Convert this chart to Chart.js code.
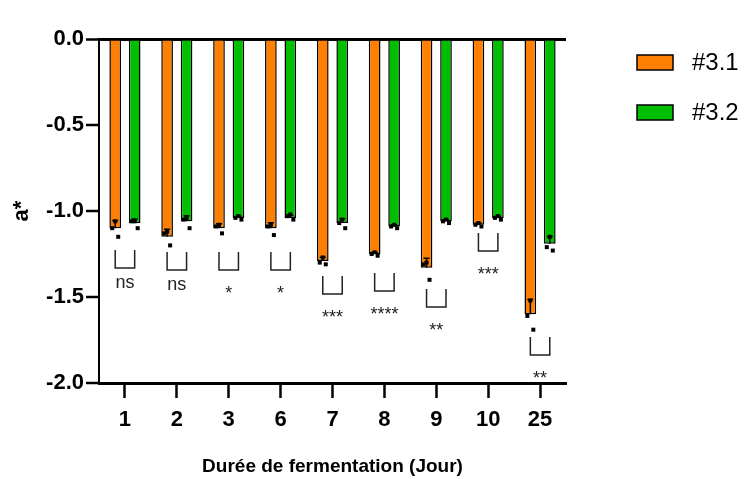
<!DOCTYPE html>
<html>
<head>
<meta charset="utf-8">
<script src="https://cdn.jsdelivr.net/npm/chart.js@4.4.0/dist/chart.umd.min.js"></script>
<style>
  html, body { margin: 0; padding: 0; background: #fff; }
</style>
</head>
<body>
<canvas id="chart" width="746" height="479"></canvas>
<script>
const days = ["1", "2", "3", "6", "7", "8", "9", "10", "25"];

// mean a* per day
const means31 = [-1.10, -1.15, -1.10, -1.10, -1.29, -1.25, -1.33, -1.08, -1.60];
const means32 = [-1.07, -1.06, -1.04, -1.04, -1.07, -1.09, -1.06, -1.04, -1.19];

// individual replicates
const reps31 = [
  [-1.06, -1.10, -1.15], [-1.12, -1.13, -1.20], [-1.08, -1.09, -1.13],
  [-1.08, -1.09, -1.14], [-1.27, -1.30, -1.31], [-1.24, -1.25, -1.26],
  [-1.30, -1.31, -1.40], [-1.07, -1.08, -1.09], [-1.52, -1.61, -1.69]
];
const reps32 = [
  [-1.06, -1.06, -1.10], [-1.04, -1.05, -1.10], [-1.03, -1.04, -1.05],
  [-1.02, -1.03, -1.05], [-1.05, -1.07, -1.10], [-1.08, -1.09, -1.10],
  [-1.05, -1.06, -1.07], [-1.03, -1.04, -1.05], [-1.15, -1.21, -1.23]
];

// significance between #3.1 and #3.2
const sigLabels = ["ns", "ns", "*", "*", "***", "****", "**", "***", "**"];
const sigLevel = [-1.227, -1.238, -1.238, -1.238, -1.378, -1.360, -1.453, -1.128, -1.733];

const yTicks = [-2.0, -1.5, -1.0, -0.5, 0.0];

const FONT = "'Liberation Sans', Arial, sans-serif";
const ORANGE = "#ff8000";
const GREEN = "#00be00";

function sd(vals) {
  const m = vals.reduce((a, b) => a + b, 0) / vals.length;
  const v = vals.reduce((a, b) => a + (b - m) * (b - m), 0) / (vals.length - 1);
  return Math.sqrt(v);
}

const extras = {
  id: "extras",
  afterDatasetsDraw(chart) {
    const ctx = chart.ctx;
    const y = chart.scales.y;
    const metaA = chart.getDatasetMeta(0);
    const metaB = chart.getDatasetMeta(1);
    const jitter = [0, -3, 3];

    ctx.save();
    [[metaA, reps31, means31], [metaB, reps32, means32]].forEach(([meta, reps, means]) => {
      meta.data.forEach((bar, i) => {
        const yMean = y.getPixelForValue(means[i]);
        const yErr = y.getPixelForValue(means[i] + sd(reps[i]));
        ctx.strokeStyle = "#000";
        ctx.lineWidth = 1.5;
        ctx.beginPath();
        ctx.moveTo(bar.x, yMean);
        ctx.lineTo(bar.x, yErr);
        ctx.moveTo(bar.x - 3, yErr);
        ctx.lineTo(bar.x + 3, yErr);
        ctx.stroke();
        ctx.fillStyle = "#000";
        reps[i].forEach((v, k) => {
          const py = y.getPixelForValue(v);
          ctx.fillRect(bar.x + jitter[k] - 2, py - 2, 4, 4);
        });
      });
    });

    // brackets
    ctx.strokeStyle = "#222";
    ctx.lineWidth = 1.5;
    ctx.fillStyle = "#222";
    ctx.textAlign = "center";
    ctx.textBaseline = "middle";
    ctx.font = "18px " + FONT;
    days.forEach((d, i) => {
      const x1 = metaA.data[i].x;
      const x2 = metaB.data[i].x;
      const top = y.getPixelForValue(sigLevel[i]);
      const bottom = top + 18;
      ctx.beginPath();
      ctx.moveTo(x1, top);
      ctx.lineTo(x1, bottom);
      ctx.lineTo(x2, bottom);
      ctx.lineTo(x2, top);
      ctx.stroke();
      const isNs = sigLabels[i] === "ns";
      ctx.fillText(sigLabels[i], (x1 + x2) / 2, bottom + (isNs ? 15 : 24));
    });
    ctx.restore();
  },
  afterDraw(chart) {
    const ctx = chart.ctx;
    ctx.save();
    chart.data.datasets.forEach((ds, i) => {
      const top = 55 + i * 50;
      ctx.fillStyle = ds.backgroundColor;
      ctx.fillRect(637, top, 36, 15);
      ctx.strokeStyle = "#000";
      ctx.lineWidth = 1.5;
      ctx.strokeRect(637, top, 36, 15);
      ctx.fillStyle = "#000";
      ctx.font = "24px " + FONT;
      ctx.textAlign = "left";
      ctx.textBaseline = "middle";
      ctx.fillText(ds.label, 692, top + 8);
    });
    ctx.restore();
  }
};

new Chart(document.getElementById("chart"), {
  type: "bar",
  data: {
    labels: days,
    datasets: [
      {
        label: "#3.1",
        data: means31,
        backgroundColor: ORANGE,
        borderColor: "#000",
        borderWidth: 1.5,
        categoryPercentage: 0.75,
        barPercentage: 0.6,
      },
      {
        label: "#3.2",
        data: means32,
        backgroundColor: GREEN,
        borderColor: "#000",
        borderWidth: 1.5,
        categoryPercentage: 0.75,
        barPercentage: 0.6,
      },
    ],
  },
  options: {
    responsive: false,
    animation: false,
    layout: { padding: { top: 39, right: 180, left: 0, bottom: 0 } },
    plugins: {
      legend: { display: false },
      tooltip: { enabled: false },
    },
    scales: {
      x: {
        grid: {
          drawOnChartArea: false,
          offset: false,
          tickLength: 15,
          tickColor: "#000",
          tickWidth: 2.5,
          color: "#000",
        },
        border: { color: "#000", width: 3 },
        ticks: {
          color: "#000",
          padding: 9,
          font: { family: FONT, size: 22, weight: "bold" },
        },
        title: {
          display: true,
          text: "Durée de fermentation (Jour)",
          color: "#000",
          padding: { top: 0, bottom: 1 },
          font: { family: FONT, size: 19, weight: "bold" },
        },
        afterFit: (s) => { s.height = 96; },
      },
      y: {
        min: yTicks[0],
        max: yTicks[yTicks.length - 1],
        afterBuildTicks: (s) => { s.ticks = yTicks.map((v) => ({ value: v })); },
        grid: {
          color: (c) => (c.tick && c.tick.value === 0 ? "#000" : "rgba(0,0,0,0)"),
          lineWidth: (c) => (c.tick && c.tick.value === 0 ? 3 : 0),
          tickColor: "#000",
          tickWidth: 2.5,
          tickLength: 13,
        },
        border: { color: "#000", width: 2 },
        ticks: {
          color: "#000",
          padding: 2,
          font: { family: FONT, size: 22, weight: "bold" },
          callback: (v) => Number(v).toFixed(1),
        },
        title: {
          display: true,
          text: "a*",
          color: "#000",
          padding: { top: 9, bottom: 0 },
          font: { family: FONT, size: 22, weight: "bold" },
        },
        afterFit: (s) => { s.width = 99; },
      },
    },
  },
  plugins: [extras],
});
</script>
</body>
</html>
